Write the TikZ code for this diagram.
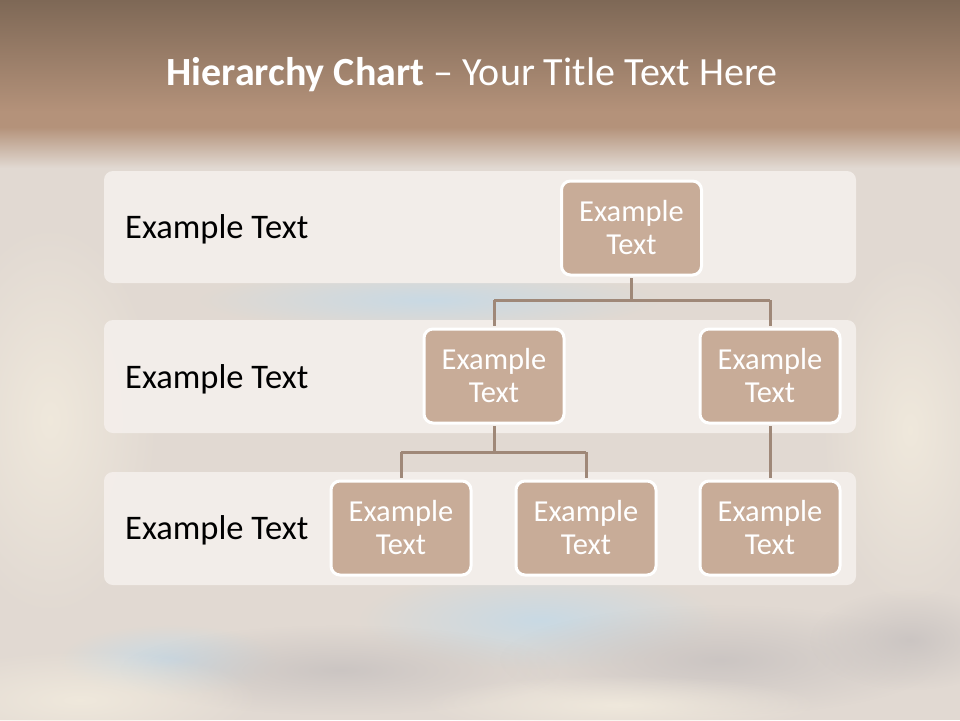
\documentclass[tikz,border=0pt]{standalone}
\usepackage{fontspec}
\setmainfont{Carlito}
\usetikzlibrary{positioning,fadings}
\tikzfading[name=softblob, inner color=transparent!0, outer color=transparent!100]
\definecolor{bgbase}{HTML}{E1D9D2}
\definecolor{bandtop}{HTML}{7E6856}
\definecolor{bandbot}{HTML}{B4927A}
\definecolor{rowfill}{HTML}{F4EFEB}
\definecolor{boxfill}{HTML}{C8AC98}
\definecolor{linecol}{HTML}{9F8878}
\definecolor{cloudgrey}{HTML}{C9C3C1}
\definecolor{cloudblue}{HTML}{C6D9E6}
\definecolor{cloudcream}{HTML}{F1EADD}
\tikzset{
  rowband/.style={fill=rowfill, fill opacity=0.93, draw=none, rounded corners=9pt},
  rowlabel/.style={anchor=west, text=black, font=\fontsize{34.5}{40}\selectfont, inner sep=0pt},
  orgbox/.style={draw=white, line width=3pt, fill=boxfill, rounded corners=9pt,
    minimum width=140pt, minimum height=94pt, text=white, align=center,
    font=\fontsize{30.5}{33}\selectfont, inner sep=0pt},
  conn/.style={draw=linecol, line width=3pt},
  cloud/.style={draw=none, path fading=softblob, fill opacity=0.9}
}
\begin{document}
\begin{tikzpicture}[x=1pt,y=-1pt]
\useasboundingbox (0,0) rectangle (960,720);
% background
\fill[bgbase] (0,0) rectangle (960,720);
\fill[cloud, cloudblue] (430,300) ellipse (230 and 30);
\fill[cloud, cloudblue] (540,620) ellipse (180 and 50);
\fill[cloud, cloudblue] (170,660) ellipse (110 and 35);
\fill[cloud, cloudgrey] (340,670) ellipse (220 and 45);
\fill[cloud, cloudgrey] (720,660) ellipse (220 and 55);
\fill[cloud, cloudcream] (80,700) ellipse (180 and 50);
\fill[cloud, cloudcream] (50,420) ellipse (110 and 200);
\fill[cloud, cloudcream] (910,430) ellipse (90 and 180);
\fill[cloud, cloudgrey] (910,640) ellipse (100 and 50);
\fill[cloud, cloudcream] (620,705) ellipse (200 and 30);
% title band
\shade[top color=bandtop, bottom color=bandbot] (0,0) rectangle (960,112);
\fill[bandbot] (0,111) rectangle (960,128);
\shade[top color=bandbot, bottom color=bgbase] (0,127) rectangle (960,168);
\node[text=white, font=\fontsize{40}{44}\selectfont, inner sep=0pt] (title) at (472,75)
  {\textbf{Hierarchy Chart} – Your Title Text Here};
% row bands
\fill[rowband] (104,171) rectangle (856,283);
\fill[rowband] (104,320) rectangle (856,433);
\fill[rowband] (104,472) rectangle (856,585);
\node[rowlabel] (l1) at (125,229) {Example Text};
\node[rowlabel] (l2) at (125,379) {Example Text};
\node[rowlabel] (l3) at (125,530) {Example Text};
% boxes
\node[orgbox] (top) at (631.5,228) {\raisebox{2pt}{Example}\\\raisebox{2pt}{Text}};
\node[orgbox] (m1) at (494,376) {\raisebox{2pt}{Example}\\\raisebox{2pt}{Text}};
\node[orgbox] (m2) at (770,376) {\raisebox{2pt}{Example}\\\raisebox{2pt}{Text}};
\node[orgbox] (b1) at (401,528) {\raisebox{2pt}{Example}\\\raisebox{2pt}{Text}};
\node[orgbox] (b2) at (586,528) {\raisebox{2pt}{Example}\\\raisebox{2pt}{Text}};
\node[orgbox] (b3) at (770,528) {\raisebox{2pt}{Example}\\\raisebox{2pt}{Text}};
% connectors
\coordinate (j1) at (631.5,300);
\coordinate (j2) at (494,452);
\draw[conn] ([yshift=-1.5pt]top.south) -- (j1);
\draw[conn] (m1.north |- j1) -- (m2.north |- j1);
\draw[conn] (m1.north |- j1) -- ([yshift=1.5pt]m1.north);
\draw[conn] (m2.north |- j1) -- ([yshift=1.5pt]m2.north);
\draw[conn] ([yshift=-1.5pt]m1.south) -- (j2);
\draw[conn] (b1.north |- j2) -- (b2.north |- j2);
\draw[conn] (b1.north |- j2) -- ([yshift=1.5pt]b1.north);
\draw[conn] (b2.north |- j2) -- ([yshift=1.5pt]b2.north);
\draw[conn] ([yshift=-1.5pt]m2.south) -- ([yshift=1.5pt]b3.north);
\end{tikzpicture}
\end{document}
